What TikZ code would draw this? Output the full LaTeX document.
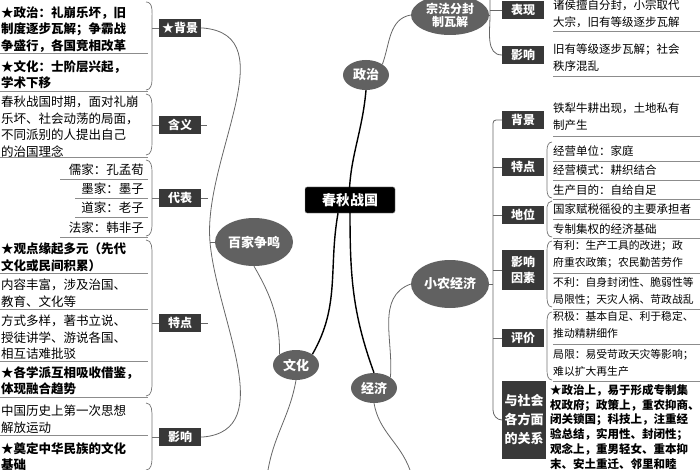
\documentclass[tikz,border=0pt]{standalone}
\usepackage{fontspec}
\setmainfont{Noto Sans CJK SC}
\usetikzlibrary{shapes.geometric}
\begin{document}
\begin{tikzpicture}[x=1pt,y=-1pt,
  lab/.style={fill=black!78,text=white,font=\bfseries\fontsize{12}{14}\selectfont,inner sep=2pt,minimum width=42pt,minimum height=18pt},
  ell/.style={ellipse,fill=black!62,text=white,font=\bfseries\fontsize{13}{15}\selectfont,inner sep=1pt},
  txt/.style={anchor=north west,inner sep=0pt,align=left,font=\fontsize{12.5}{16.5}\selectfont,text width=148pt},
  btxt/.style={txt,font=\bfseries\fontsize{12.5}{16.5}\selectfont},
  rtxt/.style={anchor=north west,inner sep=0pt,align=left,font=\fontsize{11.5}{17}\selectfont,text width=150pt},
  stxt/.style={rtxt,font=\fontsize{10.8}{17}\selectfont},
  sep/.style={draw=black!45,line width=0.8pt},
  br/.style={draw=black!55,line width=0.7pt},
  thick1/.style={draw=black,line width=1.4pt},
  thin1/.style={draw=black!60,line width=0.8pt}]
\useasboundingbox (0,0) rectangle (700,470);
% central nodes
\node[fill=black,text=white,font=\bfseries\fontsize{14}{16}\selectfont,rounded corners=2pt,minimum width=90pt,minimum height=26pt,draw=black!40] (c) at (350,200) {春秋战国};
\node[ell,minimum width=46pt,minimum height=30pt] (zz) at (366,75) {政治};
\node[ell,minimum width=78pt,minimum height=40pt,align=center,font=\bfseries\fontsize{12}{13}\selectfont] (zf) at (450,15) {宗法分封\\制瓦解};
\node[ell,minimum width=78pt,minimum height=48pt] (bj) at (254,242) {百家争鸣};
\node[ell,minimum width=46pt,minimum height=30pt] (wh) at (296,365) {文化};
\node[ell,minimum width=46pt,minimum height=30pt] (jj) at (374,388) {经济};
\node[ell,minimum width=78pt,minimum height=48pt] (xn) at (450,284) {小农经济};
\coordinate (whe) at (268,470);
\coordinate (jje) at (410,470);
\draw[thick1] (c.south) to[out=95,in=-95] (zz.south);
\draw[thick1] ([xshift=-12pt]c.south) to[out=-100,in=60] (wh.north east);
\draw[thick1] (c.south) to[out=-90,in=110] (jj.north);
\draw[thin1] (zz.north east) to[out=70,in=190] (zf.west);
\draw[thin1] (bj.south) to[out=-60,in=90] (wh.north west);
\draw[thin1] (xn.west) to[out=200,in=85] (jj.north east);
\draw[thin1] (wh.south) to[out=-100,in=80] (whe);
\draw[thin1] (jj.south) to[out=-80,in=110] (jje);
% left spine
\coordinate (ls) at (210,242);
\draw[thin1] (bj.west) -- (ls);
\node[lab] (l1) at (180,28) {★背景};
\node[lab] (l2) at (180,125) {含义};
\node[lab] (l3) at (180,198) {代表};
\node[lab] (l4) at (180,323) {特点};
\node[lab] (l5) at (180,437) {影响};
\draw[thin1] (l1.east) -- (203,28) to[out=-5,in=95] (ls) to[out=-85,in=5] (203,437) -- (l5.east);
\draw[thin1] (l2.east) -- (207,125);
\draw[thin1] (l3.east) -- (208,198);
\draw[thin1] (l4.east) -- (208,323);
% left texts
\node[btxt] (t1) at (1,6) {★政治：礼崩乐坏，旧\\制度逐步瓦解；争霸战\\争盛行，各国竞相改革};
\draw[sep] (0,53)--(148,53);
\node[btxt] (t2) at (1,60) {★文化：士阶层兴起，\\学术下移};
\draw[sep] (0,91)--(148,91);
\draw[br] (146,2) to[out=0,in=90] (152,20) -- (152,80) to[out=-90,in=0] (146,90);
\draw[br] (152,28) -- (l1.west);
\node[txt] (t3) at (1,96) {春秋战国时期，面对礼崩\\乐坏、社会动荡的局面，\\不同派别的人提出自己\\的治国理念};
\draw[sep] (0,157)--(148,157);
\draw[br] (146,94) to[out=0,in=90] (152,108) -- (152,142) to[out=-90,in=0] (146,155);
\draw[br] (152,125) -- (l2.west);
\node[anchor=east,inner sep=0pt,font=\fontsize{12.5}{14}\selectfont] (d1) at (144,170) {儒家：孔孟荀};
\node[anchor=east,inner sep=0pt,font=\fontsize{12.5}{14}\selectfont] (d2) at (144,189) {墨家：墨子};
\node[anchor=east,inner sep=0pt,font=\fontsize{12.5}{14}\selectfont] (d3) at (144,208) {道家：老子};
\node[anchor=east,inner sep=0pt,font=\fontsize{12.5}{14}\selectfont] (d4) at (144,228) {法家：韩非子};
\draw[sep] (60,179)--(148,179);
\draw[sep] (75,198)--(148,198);
\draw[sep] (75,217)--(148,217);
\draw[sep] (60,237)--(148,237);
\draw[br] (146,160) to[out=0,in=90] (152,172) -- (152,225) to[out=-90,in=0] (146,236);
\draw[br] (152,198) -- (l3.west);
\node[btxt] (t4) at (1,243) {★观点缘起多元（先代\\文化或民间积累）};
\draw[sep] (0,273)--(148,273);
\node[txt] (t5) at (1,279) {内容丰富，涉及治国、\\教育、文化等};
\draw[sep] (0,309)--(148,309);
\node[txt] (t6) at (1,315) {方式多样，著书立说、\\授徒讲学、游说各国、\\相互诘难批驳};
\draw[sep] (0,361)--(148,361);
\node[btxt] (t7) at (1,366) {★各学派互相吸收借鉴，\\体现融合趋势};
\draw[sep] (0,397)--(148,397);
\draw[br] (146,240) to[out=0,in=90] (152,255) -- (152,382) to[out=-90,in=0] (146,396);
\draw[br] (152,323) -- (l4.west);
\node[txt] (t8) at (1,405) {中国历史上第一次思想\\解放运动};
\draw[sep] (0,435)--(148,435);
\node[btxt] (t9) at (1,442) {★奠定中华民族的文化\\基础};
\draw[br] (146,403) to[out=0,in=90] (152,418) -- (152,458) to[out=-90,in=0] (146,470);
\draw[br] (152,437) -- (l5.west);
% right top
\node[lab,anchor=west] (r1) at (502,10) {表现};
\node[lab,anchor=west] (r2) at (502,55) {影响};
\draw[thin1] (zf.east) -- (490,15);
\draw[thin1] (490,0) -- (490,15) to[out=-90,in=180] (r2.west);
\draw[thin1] (490,10) -- (r1.west);
\node[rtxt] (s1) at (553,0) {诸侯擅自分封，小宗取代\\大宗，旧有等级逐步瓦解};
\draw[sep] (553,31)--(700,31);
\node[rtxt] (s2) at (553,44) {旧有等级逐步瓦解；社会\\秩序混乱};
\draw[sep] (553,76)--(700,76);
% right bottom
\coordinate (rs) at (493,284);
\draw[thin1] (xn.east) -- (rs);
\node[lab,anchor=west] (q1) at (502,120) {背景};
\node[lab,anchor=west] (q2) at (502,167) {特点};
\node[lab,anchor=west] (q3) at (502,215) {地位};
\node[lab,anchor=west,align=center,font=\bfseries\fontsize{12}{16}\selectfont,minimum height=40pt] (q4) at (502,270) {影响\\因素};
\node[lab,anchor=west] (q5) at (502,338) {评价};
\node[lab,anchor=west,align=center,font=\bfseries\fontsize{13}{19}\selectfont,minimum height=78pt,minimum width=44pt,inner sep=1pt] (q6) at (502,420) {与社会\\各方面\\的关系};
\draw[thin1] (q1.west) -- (496,120) to[out=180,in=90] (493,130) -- (493,410) to[out=-90,in=180] (q6.west);
\draw[thin1] (q2.west) -- (493,167);
\draw[thin1] (q3.west) -- (493,215);
\draw[thin1] (q4.west) -- (493,270);
\draw[thin1] (q5.west) -- (493,338);
\node[rtxt] (u1) at (553,103) {铁犁牛耕出现，土地私有\\制产生};
\draw[sep] (553,136)--(700,136);
\node[anchor=west,inner sep=0pt,font=\fontsize{11.5}{14}\selectfont] (u2) at (553,151) {经营单位：家庭};
\node[anchor=west,inner sep=0pt,font=\fontsize{11.5}{14}\selectfont] (u3) at (553,170) {经营模式：耕织结合};
\node[anchor=west,inner sep=0pt,font=\fontsize{11.5}{14}\selectfont] (u4) at (553,190) {生产目的：自给自足};
\draw[sep] (553,161)--(700,161);
\draw[sep] (553,180)--(700,180);
\draw[sep] (553,199)--(700,199);
\draw[br] (552,142) to[out=180,in=90] (547,150) -- (547,190) to[out=-90,in=180] (552,198);
\node[anchor=west,inner sep=0pt,font=\fontsize{11.5}{14}\selectfont] (u5) at (553,209) {国家赋税徭役的主要承担者};
\node[anchor=west,inner sep=0pt,font=\fontsize{11.5}{14}\selectfont] (u6) at (553,229) {专制集权的经济基础};
\draw[sep] (553,219)--(700,219);
\draw[sep] (553,238)--(700,238);
\draw[br] (552,201) to[out=180,in=90] (547,207) -- (547,230) to[out=-90,in=180] (552,237);
\node[stxt] (u7) at (553,240) {有利：生产工具的改进；政\\府重农政策；农民勤苦劳作};
\draw[sep] (553,273)--(700,273);
\node[stxt] (u8) at (553,277) {不利：自身封闭性、脆弱性等\\局限性；天灾人祸、苛政战乱};
\draw[sep] (553,309)--(700,309);
\draw[br] (552,241) to[out=180,in=90] (547,252) -- (547,296) to[out=-90,in=180] (552,307);
\node[stxt] (u9) at (553,311) {积极：基本自足、利于稳定、\\推动精耕细作};
\draw[sep] (553,344)--(700,344);
\node[stxt] (u10) at (553,349) {局限：易受苛政天灾等影响；\\难以扩大再生产};
\draw[sep] (553,381)--(700,381);
\draw[br] (552,312) to[out=180,in=90] (547,322) -- (547,370) to[out=-90,in=180] (552,380);
\node[rtxt,font=\bfseries\fontsize{11.5}{14.8}\selectfont] (u11) at (550,384) {★政治上，易于形成专制集\\权政府；政策上，重农抑商、\\闭关锁国；科技上，注重经\\验总结，实用性、封闭性；\\观念上，重男轻女、重本抑\\末、安土重迁、邻里和睦};
\end{tikzpicture}
\end{document}
